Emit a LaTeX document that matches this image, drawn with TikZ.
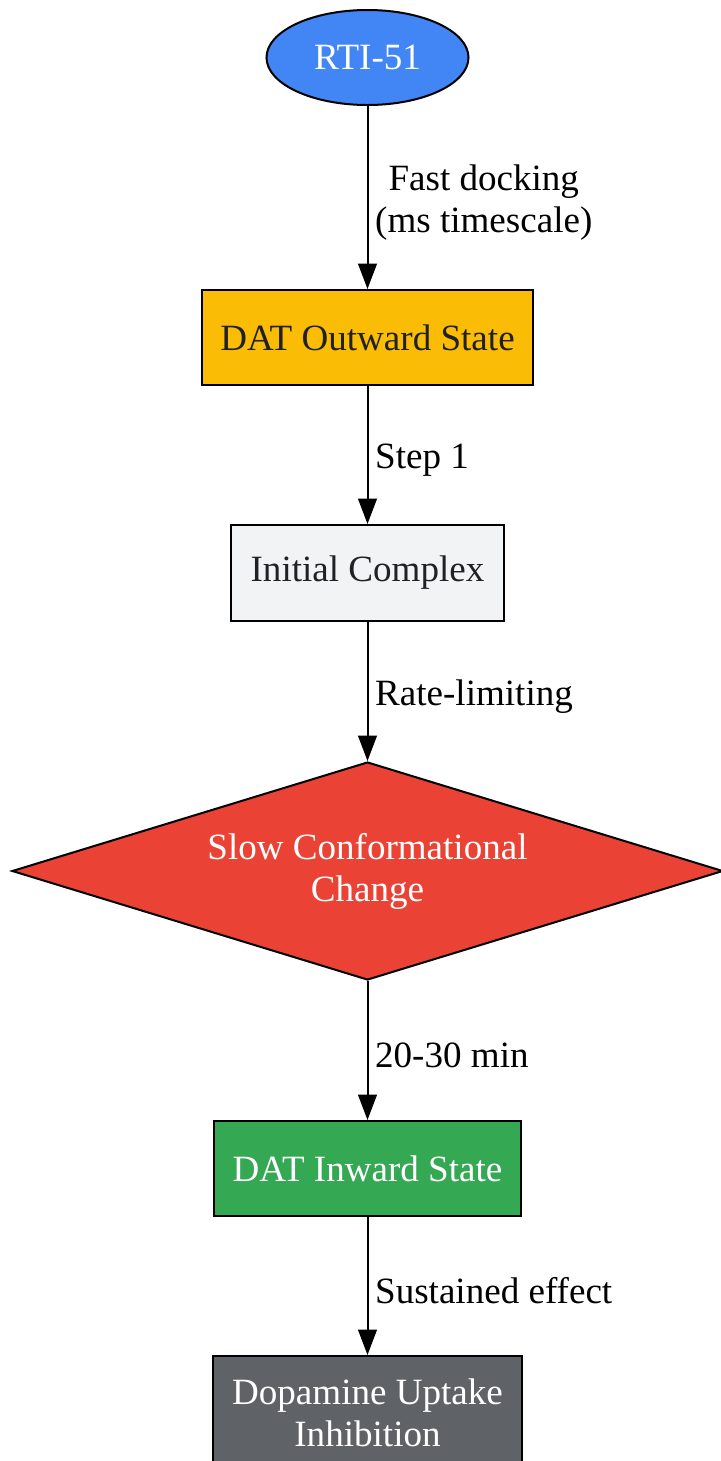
\documentclass[tikz,border=0pt]{standalone}
\usepackage{fontspec}
\setmainfont{Liberation Serif}
\usepackage{tikz}
\usetikzlibrary{shapes.geometric,arrows.meta}

\definecolor{gblue}{HTML}{4285F4}
\definecolor{gyellow}{HTML}{FBBC05}
\definecolor{glight}{HTML}{F1F3F4}
\definecolor{gred}{HTML}{EA4335}
\definecolor{ggreen}{HTML}{34A853}
\definecolor{ggrey}{HTML}{5F6368}
\definecolor{gtext}{HTML}{202124}

\begin{document}
\begin{tikzpicture}[auto, x=0.75pt, y=-0.75pt,
    every node/.style={font=\fontsize{27.8}{31.5}\selectfont, align=center},
    state/.style={draw, line width=1.5pt, rectangle, inner sep=0pt},
    lbl/.style={inner sep=5pt, yshift=-3.5pt},
    every path/.style={line width=1.5pt},
    arr/.style={-{Triangle[length=19pt, width=14pt]}}]
    \useasboundingbox (0,0) rectangle (721,1461);
    \node[state, ellipse, fill=gblue, text=white, minimum width=151.5pt, minimum height=71.25pt] (rti) at (367.5, 57.5) {RTI-51};
    \node[state, fill=gyellow, text=gtext, minimum width=248.25pt, minimum height=71.25pt] (outw) at (367.5, 337.5) {DAT Outward State};
    \node[state, fill=glight, text=gtext, minimum width=204.75pt, minimum height=72pt] (init) at (367.5, 573) {Initial Complex};
    \node[state, diamond, shape aspect=3.26, fill=gred, text=white, minimum width=533.25pt, minimum height=163.5pt] (slow) at (367.5, 871) {Slow Conformational\\Change};
    \node[state, fill=ggreen, text=white, minimum width=230.25pt, minimum height=71.25pt] (inw) at (367.5, 1168.5) {DAT Inward State};
    \node[state, fill=ggrey, text=white, minimum width=231.75pt, minimum height=85.5pt] (uptake) at (367.5, 1413) {Dopamine Uptake\\Inhibition};
    \draw [arr] (rti) to node[lbl] {Fast docking\\(ms timescale)} (outw);
    \draw [arr] (outw) to node[lbl] {Step 1} (init);
    \draw [arr] (init) to node[lbl] {Rate-limiting} (slow);
    \draw [arr] (slow) to node[lbl] {20-30 min} (inw);
    \draw [arr] (inw) to node[lbl] {Sustained effect} (uptake);
  \end{tikzpicture}
\end{document}
